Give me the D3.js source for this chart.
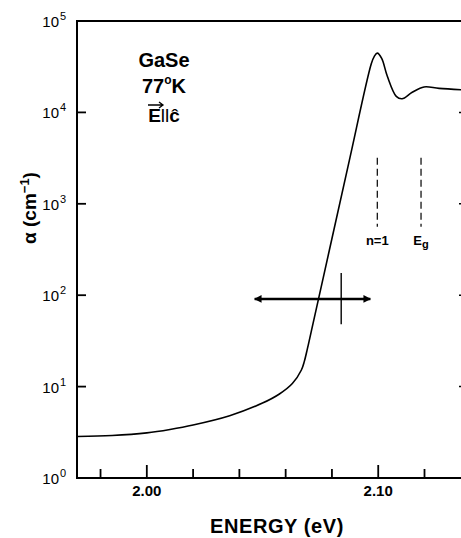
<!DOCTYPE html>
<html><head><meta charset="utf-8">
<script src="https://cdn.jsdelivr.net/npm/d3@7"></script>
<style>body{margin:0;background:#fff}svg{display:block}</style>
</head><body>
<svg id="c" width="461" height="538"></svg>
<script>
// ---- data ----
const energy = [1.970,1.985,2.000,2.010,2.020,2.0358,2.0500,2.0573,2.0629,2.0668,2.0681,2.0694,2.0711,2.0789,2.0875,2.0970,2.0983,2.0996,2.1015,2.1039,2.1078,2.1103,2.1147,2.1198,2.1263,2.1375];
const alpha  = [2.85,2.92,3.12,3.4,3.8,4.8,6.6,8.3,10.8,15.2,19,26,40.5,312,2970,34000,41000,44500,39000,25000,15000,14100,16600,19000,18300,17600];
const yTicks = [1,10,100,1000,10000,100000];
const yTickExp = ["0","1","2","3","4","5"];
const xMajor = [2.00,2.10];
const xMajorLabels = ["2.00","2.10"];
const xMinor = [1.98,2.02,2.04,2.06,2.08,2.12];
const markers = [{label:"n=1", sub:"", e:2.0996, top:3200, bottom:560},
                 {label:"E", sub:"g", e:2.1185, top:3200, bottom:560}];
const arrowE = [2.0466, 2.0966], arrowA = 91;
const barE = 2.084, barA = [48, 175];
const sampleLines = ["GaSe","77°K","E∥ĉ"];

// ---- layout ----
const svg = d3.select("#c");
const L = 77, T = 21, B = 478, R = 465;
const x = d3.scaleLinear().domain([1.96983, 2.1375]).range([L, R]);
const y = d3.scaleLog().domain([1, 1e5]).range([B, T]);
const font = "'Liberation Sans', Arial, sans-serif";

// frame
const g = svg.append("g");
g.append("line").attr("x1",L).attr("x2",L).attr("y1",T-1).attr("y2",B+1).attr("stroke","#000").attr("stroke-width",2);
g.append("line").attr("x1",L-1).attr("x2",R).attr("y1",B).attr("y2",B).attr("stroke","#000").attr("stroke-width",2);
g.append("line").attr("x1",L-1).attr("x2",R).attr("y1",T).attr("y2",T).attr("stroke","#000").attr("stroke-width",2);
g.append("line").attr("x1",R).attr("x2",R).attr("y1",T).attr("y2",B).attr("stroke","#000").attr("stroke-width",2);

// y ticks (left, inward)
g.selectAll(".yt").data(yTicks).enter().append("line")
  .attr("x1",L).attr("x2",L+9).attr("y1",d=>y(d)).attr("y2",d=>y(d)).attr("stroke","#000").attr("stroke-width",1.8);
g.selectAll(".yt2").data(yTicks.slice(1,5)).enter().append("line")
  .attr("x1",R-6).attr("x2",R).attr("y1",d=>y(d)).attr("y2",d=>y(d)).attr("stroke","#000").attr("stroke-width",1.5);
g.selectAll(".ylab").data(yTicks).enter().append("text")
  .attr("x",L-18).attr("y",d=>y(d)+6).attr("text-anchor","end")
  .attr("font-family",font).attr("font-size",15).attr("fill","#000").text("10");
g.selectAll(".yexp").data(yTicks).enter().append("text")
  .attr("x",L-17).attr("y",d=>y(d)-1).attr("text-anchor","start")
  .attr("font-family",font).attr("font-size",11).attr("fill","#000")
  .text((d,i)=>yTickExp[i]);

// x ticks (bottom, inward)
g.selectAll(".xM").data(xMajor).enter().append("line")
  .attr("x1",d=>x(d)).attr("x2",d=>x(d)).attr("y1",B).attr("y2",B-13).attr("stroke","#000").attr("stroke-width",1.8);
g.selectAll(".xm").data(xMinor).enter().append("line")
  .attr("x1",d=>x(d)).attr("x2",d=>x(d)).attr("y1",B).attr("y2",B-9).attr("stroke","#000").attr("stroke-width",1.8);
g.selectAll(".xl").data(xMajor).enter().append("text")
  .attr("x",d=>x(d)).attr("y",B+18).attr("text-anchor","middle")
  .attr("font-family",font).attr("font-size",15).attr("font-weight","bold").attr("fill","#000")
  .text((d,i)=>xMajorLabels[i]);

// axis titles
svg.append("text").attr("x",277).attr("y",533).attr("text-anchor","middle")
  .attr("font-family",font).attr("font-size",20).attr("font-weight","bold").attr("letter-spacing",0.6).text("ENERGY (eV)");
const yt = svg.append("text").attr("transform","translate(36,208) rotate(-90)").attr("text-anchor","middle")
  .attr("font-family",font).attr("font-size",19).attr("font-weight","bold");
yt.append("tspan").text("α (cm");
yt.append("tspan").attr("dy",-7).attr("font-size",13).text("−1");
yt.append("tspan").attr("dy",7).text(")");

// curve
const pts = energy.map((e,i)=>[e, alpha[i]]);
svg.append("path").datum(pts)
  .attr("d", d3.line().x(d=>x(d[0])).y(d=>y(d[1])).curve(d3.curveCatmullRom.alpha(0.5)))
  .attr("fill","none").attr("stroke","#000").attr("stroke-width",1.6);

// markers
markers.forEach(m=>{
  svg.append("line").attr("x1",x(m.e)).attr("x2",x(m.e)).attr("y1",y(m.top)).attr("y2",y(m.bottom))
    .attr("stroke","#000").attr("stroke-width",1.2).attr("stroke-dasharray","7,4");
  const t = svg.append("text").attr("x",x(m.e)).attr("y",245).attr("text-anchor","middle")
    .attr("font-family",font).attr("font-size",13).attr("font-weight","bold");
  t.append("tspan").text(m.label);
  if (m.sub) t.append("tspan").attr("dy",3).attr("font-size",11).text(m.sub);
});

// arrow
const defs = svg.append("defs");
defs.append("marker").attr("id","ah").attr("viewBox","0 0 10 10").attr("refX",9).attr("refY",5)
  .attr("markerWidth",4).attr("markerHeight",3.2).attr("orient","auto-start-reverse")
  .attr("markerUnits","strokeWidth")
  .append("path").attr("d","M0,0 L10,5 L0,10 z").attr("fill","#000");
svg.append("line").attr("x1",x(arrowE[0])).attr("x2",x(arrowE[1])).attr("y1",y(arrowA)).attr("y2",y(arrowA))
  .attr("stroke","#000").attr("stroke-width",2.4).attr("marker-start","url(#ah)").attr("marker-end","url(#ah)");
svg.append("line").attr("x1",x(barE)).attr("x2",x(barE)).attr("y1",y(barA[0])).attr("y2",y(barA[1]))
  .attr("stroke","#000").attr("stroke-width",1.4);

// sample label
const yy = [67, 93, 122];
sampleLines.forEach((s,i)=>{
  const t = svg.append("text").attr("x",164).attr("y",yy[i]).attr("text-anchor","middle")
    .attr("font-family",font).attr("font-size",i==2?19:20).attr("font-weight","bold");
  if (i==0) t.text(s);
  else if (i==1) { t.append("tspan").text("77"); t.append("tspan").attr("dy",-9).attr("font-size",12).text("o"); t.append("tspan").attr("dy",9).text("K"); }
  else { t.append("tspan").text("E"); t.append("tspan").attr("font-weight","normal").text("ll"); t.append("tspan").text("ĉ"); }
});
// vector arrow over E
svg.append("path").attr("d","M148,105 L163,105 M159,102 L163,105 L159,108")
  .attr("stroke","#000").attr("stroke-width",1.3).attr("fill","none");
</script>
</body></html>
